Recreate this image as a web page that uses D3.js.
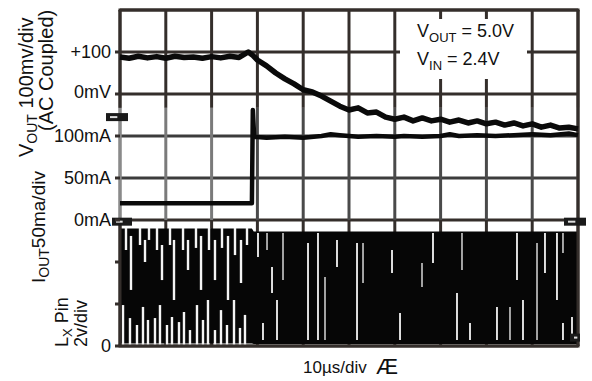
<!DOCTYPE html>
<html><head><meta charset="utf-8">
<script src="https://cdn.jsdelivr.net/npm/d3@7"></script>
<style>html,body{margin:0;padding:0;background:#fff;}svg{display:block;font-family:"Liberation Sans",Arial,Helvetica,sans-serif;}</style>
</head><body>
<svg id="c" width="592" height="381"></svg>
<script>
// ---------- data ----------
const timeDivs = [0,10,20,30,40,50,60,70,80,90,100];           // µs
const rowDivs = [0,1,2,3,4,5,6,7,8];                           // graticule rows

// V_OUT (AC coupled, mV) vs time (µs)
const voutT  = [0,2,4,6,8,10,12,14,16,18,20,22,24,26,28,29,30,32,34,36,38,40,42,44,46,48,50,52,54,56,58,60,62,64,66,68,70,72,74,76,78,80,82,84,86,88,90,92,94,96,98,100];
const voutMV = [88,85,90,86,89,85,90,87,88,85,89,86,90,87,100,92,81,67,50,36,24,10,5,-5,-17,-29,-38,-33,-45,-43,-55,-60,-55,-64,-57,-64,-60,-67,-62,-69,-64,-71,-67,-74,-69,-76,-71,-79,-74,-81,-79,-83];

// I_OUT (mA) vs time (µs)
const ioutT  = [0,28.8,29.0,29.3,32,36,40,44,46,48,52,56,60,62,66,70,72,74,78,82,86,90,94,98,100];
const ioutMA = [20,20,131,99,98,99,98,100,102,101,99,100,99,100,99,100,102,100,101,100,101,102,101,103,101];

// L_X pin envelope (V) vs time (µs)
const lxT  = [0,28.8,29.2,100];
const lxHi = [5.6,5.6,5.45,5.45];
const lxLo = [0.12,0.12,0.1,0.1];
// open (white) slivers inside the switching band: time, upper V, lower V
const lxGapT  = [1.31,2.40,4.37,5.46,6.33,8.08,9.17,10.92,11.79,13.76,14.85,16.59,17.69,19.43,20.74,22.27,23.58,25.11,26.42,27.73,
                 0.66,2.18,3.71,5.02,6.11,7.64,8.73,10.26,11.35,12.88,13.97,15.28,16.81,18.12,19.21,20.74,22.05,23.36,24.89,26.2,27.29,
                 30.13,31.22,32.10,33.19,34.28,35.59,41.05,43.23,44.76,47.38,51.75,53.06,59.39,61.14,65.94,68.34,73.58,74.67,76.42,82.31,85.15,86.68,87.99,91.05,92.79,95.41,96.72,96.72,98.69];
const lxGapHi = [5.62,5.24,5.62,5.05,5.62,5.62,4.81,5.62,5.05,5.62,5.05,5.62,5.24,5.62,5.05,5.62,5.24,5.62,5.05,5.62,
                 1.95,1.33,1.0,1.86,1.24,1.33,1.95,1.0,1.38,1.14,1.62,0.76,1.95,1.24,2.19,0.76,1.71,1.0,2.19,0.86,1.48,
                 5.38,1.10,5.38,3.76,2.19,5.38,4.90,5.38,3.29,5.05,4.90,4.90,4.57,1.57,3.95,5.38,2.52,5.38,1.10,1.86,1.86,5.38,2.19,4.90,5.38,5.38,5.38,1.10,1.38];
const lxGapLo = [4.57,2.67,4.81,4.0,5.05,4.57,3.14,4.81,2.19,4.57,3.62,4.67,2.67,4.57,3.14,4.67,2.19,4.33,3.0,4.81,
                 0,0,0,0,0,0,0,0,0,0,0,0,0,0,0,0,0,0,0,0,0,
                 4.24,0.29,4.57,2.52,0.29,3.14,0.29,0.29,0.29,3.76,0.29,3.0,3.48,0.29,2.81,3.95,0.29,3.62,0.29,0.29,0.29,3.14,0.29,0.29,3.48,2.19,4.43,0.29,0.29];

// left scale labels
const tickText  = ["+100","0mV","100mA","50mA","0mA","0"];
const tickValue = [100,0,100,50,0,0];
const tickAxis  = ["v","v","i","i","i","l"];

// ---------- scales ----------
const svg = d3.select("#c");
const x  = d3.scaleLinear().domain([0,100]).range([120,578]);
const gy = d3.scaleLinear().domain([0,8]).range([10,346]);
const yV = d3.scaleLinear().domain([200,-600]).range([10,346]);   // 100 mV/div
const yI = d3.scaleLinear().domain([250,-150]).range([10,346]);   // 50 mA/div
const yL = d3.scaleLinear().domain([16,0]).range([10,346]);       // 2 V/div
const yOf = {v:yV, i:yI, l:yL};

const dark = "#342e2b";

// ---------- graticule ----------
const g = svg.append("g");
g.selectAll("line.h").data(rowDivs).join("line")
  .attr("x1", x(0)).attr("x2", x(100))
  .attr("y1", d=>gy(d)).attr("y2", d=>gy(d))
  .attr("stroke", d => (d===3||d===4) ? "#3c3c3c" : dark).attr("stroke-width", 3);
g.selectAll("line.vu").data(timeDivs).join("line")
  .attr("x1", d=>x(d)).attr("x2", d=>x(d)).attr("y1", gy(0)).attr("y2", gy(2.33))
  .attr("stroke", dark).attr("stroke-width", 3);
g.selectAll("line.vm").data(timeDivs).join("line").attr("class","vm")
  .attr("x1", d=>x(d)).attr("x2", d=>x(d)).attr("y1", gy(2.33)).attr("y2", gy(5))
  .attr("stroke", d => d<30 ? "#7a7a7a" : "#4a4a4a").attr("stroke-width", 3);
g.selectAll("line.vl").data(timeDivs).join("line").attr("class","vl")
  .attr("x1", d=>x(d)).attr("x2", d=>x(d)).attr("y1", gy(5)).attr("y2", gy(8))
  .attr("stroke", dark).attr("stroke-width", 3);

// ---------- L_X waveform ----------
const lxData = lxT.map((t,i)=>({t, hi:lxHi[i], lo:lxLo[i]}));
svg.append("path").datum(lxData)
  .attr("d", d3.area().x(d=>x(d.t)).y0(d=>yL(d.lo)).y1(d=>yL(d.hi)))
  .attr("fill", "#060606");
const gaps = lxGapT.map((t,i)=>({t, hi:lxGapHi[i], lo:lxGapLo[i], left: t < 29}));
svg.append("g").selectAll("line").data(gaps).join("line")
  .attr("x1", d=>x(d.t)).attr("x2", d=>x(d.t))
  .attr("y1", d=>yL(d.hi)).attr("y2", d=>yL(d.lo))
  .attr("stroke", (d,i)=> (!d.left && i%3===1) ? "#b5b5b5" : "#f4f4f4")
  .attr("stroke-width", d => d.left ? 2.4 : 1.8);

// frame (left side lighter in the middle band, as in the scan)
const frame = svg.append("g").attr("stroke-width",3).attr("fill","none");
frame.append("line").attr("x1",x(0)-1.5).attr("x2",x(100)+1.5).attr("y1",gy(0)).attr("y2",gy(0)).attr("stroke",dark);
frame.append("line").attr("x1",x(0)-1.5).attr("x2",x(100)+1.5).attr("y1",gy(8)).attr("y2",gy(8)).attr("stroke",dark);
frame.append("line").attr("x1",x(100)).attr("x2",x(100)).attr("y1",gy(0)).attr("y2",gy(8)).attr("stroke",dark);
frame.append("line").attr("x1",x(0)).attr("x2",x(0)).attr("y1",gy(0)).attr("y2",gy(2.33)).attr("stroke",dark);
frame.append("line").attr("x1",x(0)).attr("x2",x(0)).attr("y1",gy(2.33)).attr("y2",gy(5)).attr("stroke","#8a8a8a");
frame.append("line").attr("x1",x(0)).attr("x2",x(0)).attr("y1",gy(5)).attr("y2",gy(8)).attr("stroke",dark);

// ---------- traces ----------
const ioutData = ioutT.map((t,i)=>({t, v:ioutMA[i]}));
svg.append("path").datum(ioutData)
  .attr("d", d3.line().x(d=>x(d.t)).y(d=>yI(d.v)))
  .attr("fill","none").attr("stroke","#0a0a0a").attr("stroke-width",4.5).attr("stroke-linejoin","round");

const voutData = voutT.map((t,i)=>({t, v:voutMV[i]}));
svg.append("path").datum(voutData)
  .attr("d", d3.line().x(d=>x(d.t)).y(d=>yV(d.v)))
  .attr("fill","none").attr("stroke","#0a0a0a").attr("stroke-width",5.5).attr("stroke-linejoin","round");

// ---------- channel markers ----------
const markers = [
  {x:x(0)-14, y:yV(-55), w:22},
  {x:x(0)-8,  y:yI(-2),  w:20},
  {x:x(100)-14, y:yI(-2), w:22},
  {x:x(100)-8, y:yL(0.4), w:10}
];
const mk = svg.append("g").selectAll("g").data(markers).join("g")
  .attr("transform", d=>`translate(${d.x},${d.y})`);
mk.append("rect").attr("x",0).attr("y",-4).attr("width",d=>d.w).attr("height",8).attr("fill","#1a1a1a");
mk.append("rect").attr("x",4).attr("y",-1).attr("width",d=>d.w/3).attr("height",2).attr("fill","#ddd");

// ---------- legend ----------
svg.append("rect").attr("x",400).attr("y",19).attr("width",127).attr("height",60).attr("fill","#fff");
const leg1 = svg.append("text").attr("x",417).attr("y",37).attr("font-size",18).attr("fill","#111");
leg1.append("tspan").text("V");
leg1.append("tspan").attr("font-size",13).attr("dy",5).text("OUT");
leg1.append("tspan").attr("dy",-5).text(" = 5.0V");
const leg2 = svg.append("text").attr("x",417).attr("y",65).attr("font-size",18).attr("fill","#111");
leg2.append("tspan").text("V");
leg2.append("tspan").attr("font-size",13).attr("dy",5).text("IN");
leg2.append("tspan").attr("dy",-5).text(" = 2.4V");

// ---------- left tick labels & ticks ----------
const ticks = tickText.map((t,i)=>({t, y:yOf[tickAxis[i]](tickValue[i])}));
svg.append("g").selectAll("text").data(ticks).join("text")
  .attr("x", 111).attr("y", d=>d.y).attr("dy", (d,i)=> i===1 ? "0.22em" : "0.36em")
  .attr("text-anchor","end").attr("font-size",18).attr("fill","#111").text(d=>d.t);
svg.append("g").selectAll("line").data(rowDivs.slice(1)).join("line")
  .attr("x1", x(0)-5).attr("x2", x(0)).attr("y1", d=>gy(d)).attr("y2", d=>gy(d))
  .attr("stroke", dark).attr("stroke-width", 3);

// ---------- rotated axis titles ----------
function rotLabel(tx, ty, size, parts){
  const t = svg.append("text").attr("transform",`translate(${tx},${ty}) rotate(-90)`)
    .attr("font-size",size).attr("fill","#111");
  parts.forEach(p=>{ const s=t.append("tspan").text(p.text);
    if(p.size) s.attr("font-size",p.size); if(p.dy) s.attr("dy",p.dy); });
}
rotLabel(33,157,20,[{text:"V"},{text:"OUT",size:14,dy:4},{text:" 100mv/div",dy:-4}]);
rotLabel(53,131,20,[{text:"(AC Coupled)"}]);
rotLabel(45,283,19,[{text:"I"},{text:"OUT",size:14,dy:4},{text:"50ma/div",dy:-4}]);
rotLabel(68,347,18,[{text:"L"},{text:"X",size:13,dy:4},{text:" Pin",dy:-4}]);
rotLabel(87,347,18,[{text:"2v/div"}]);

// ---------- bottom ----------
svg.append("text").attr("x",303).attr("y",373).attr("font-size",17).attr("fill","#111").text("10µs/div");
svg.append("text").attr("x",376).attr("y",374).attr("font-size",22).attr("fill","#111").text("Æ");
</script>
</body></html>
